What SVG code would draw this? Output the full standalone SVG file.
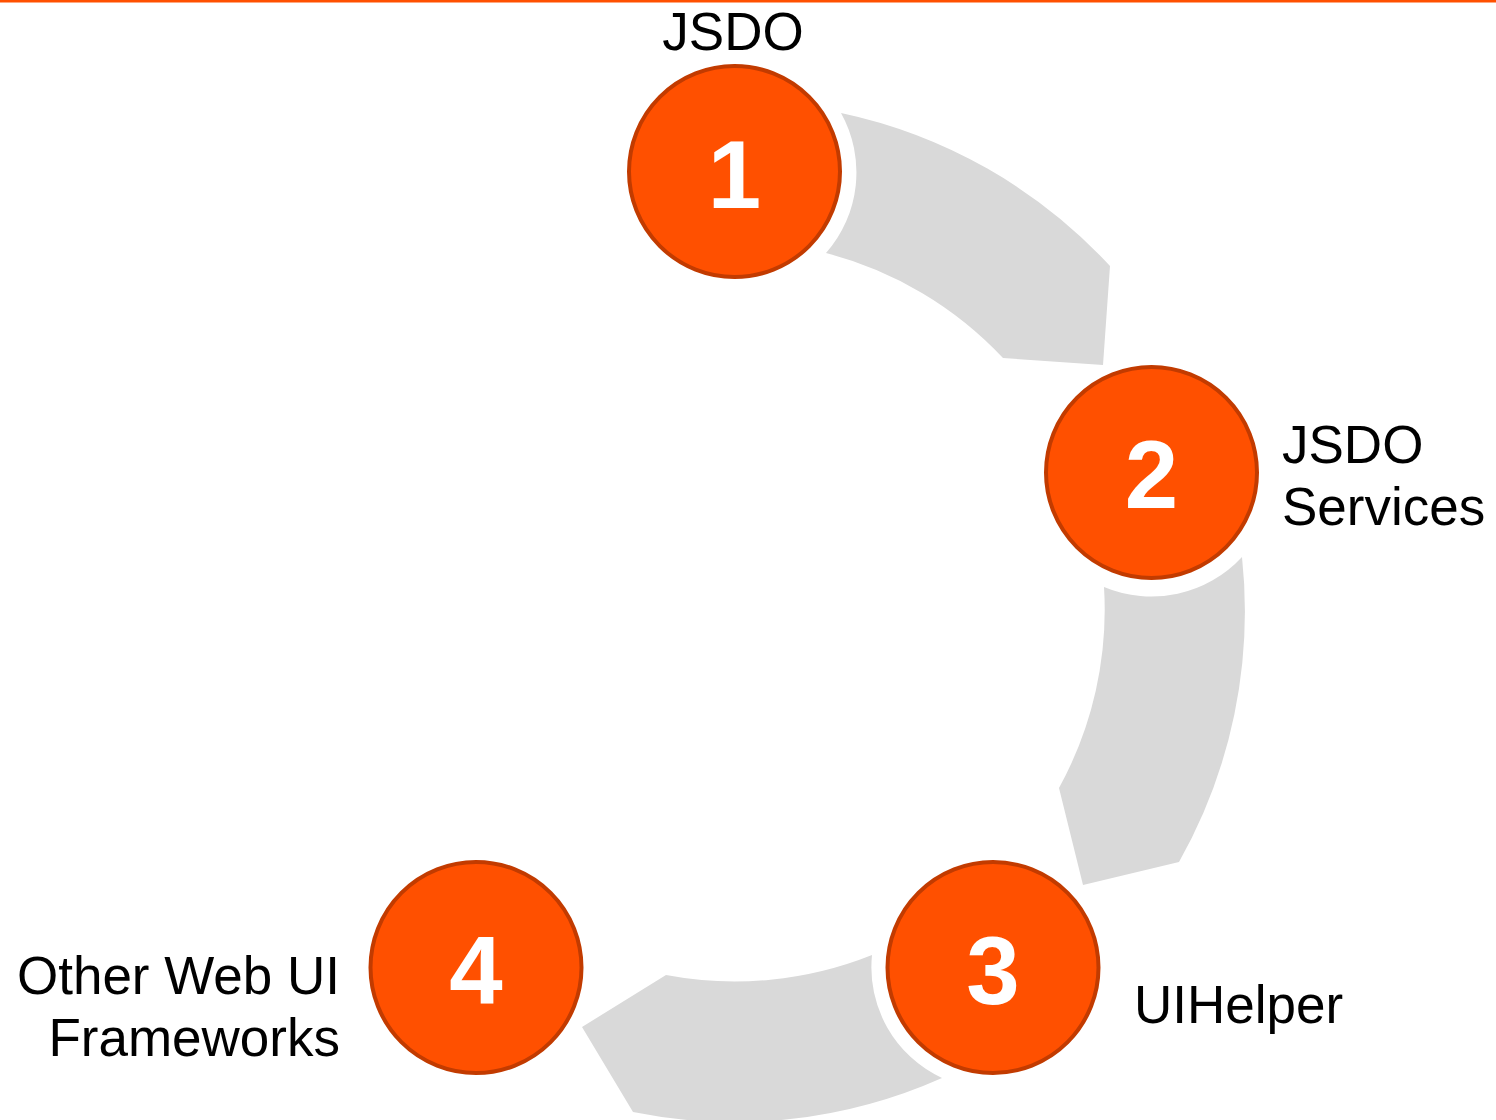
<svg xmlns="http://www.w3.org/2000/svg" width="1496" height="1120" viewBox="0 0 1496 1120">
  <style>
    .arrow { fill: #D9D9D9; }
    .node circle { fill: #FF5000; stroke: #C23B00; stroke-width: 4; }
    .num { font-family: "Liberation Sans", Arial, sans-serif; font-weight: bold; font-size: 96px; fill: #FFFFFF; text-anchor: middle; }
    .label { font-family: "Liberation Sans", Arial, sans-serif; font-size: 53px; fill: #000000; }
  </style>
  <rect x="0" y="0" width="1496" height="2.5" fill="#FF5000"/>
  <g id="connectors">
    <path class="arrow" d="M 841 113 A 510 510 0 0 1 1110 266 L 1103 365 L 1003 358 A 370 370 0 0 0 826 253 A 122 122 0 0 0 841 113 Z"/>
    <path class="arrow" d="M 1242 557 A 510 510 0 0 1 1179 862 L 1083 885 L 1059 788 A 370 370 0 0 0 1104 587 A 123 123 0 0 0 1242 557 Z"/>
    <path class="arrow" d="M 942 1078 A 510 510 0 0 1 633 1112 L 582 1027 L 666 975 A 370 370 0 0 0 872 955 A 122 122 0 0 0 942 1078 Z"/>
  </g>
  <g id="node1" class="node">
    <circle cx="734.5" cy="171.5" r="105.5"/>
    <text class="num" x="734.5" y="208">1</text>
    <text class="label" x="733" y="50" text-anchor="middle">JSDO</text>
  </g>
  <g id="node2" class="node">
    <circle cx="1151.5" cy="472.5" r="105.5"/>
    <text class="num" x="1151.5" y="508">2</text>
    <text class="label" x="1282" y="463">JSDO</text>
    <text class="label" x="1282" y="525">Services</text>
  </g>
  <g id="node3" class="node">
    <circle cx="993" cy="967.5" r="105.5"/>
    <text class="num" x="993" y="1004">3</text>
    <text class="label" x="1134" y="1023">UIHelper</text>
  </g>
  <g id="node4" class="node">
    <circle cx="476" cy="967.5" r="105.5"/>
    <text class="num" x="476" y="1004">4</text>
    <text class="label" x="340" y="994" text-anchor="end">Other Web UI</text>
    <text class="label" x="340" y="1056" text-anchor="end">Frameworks</text>
  </g>
</svg>
